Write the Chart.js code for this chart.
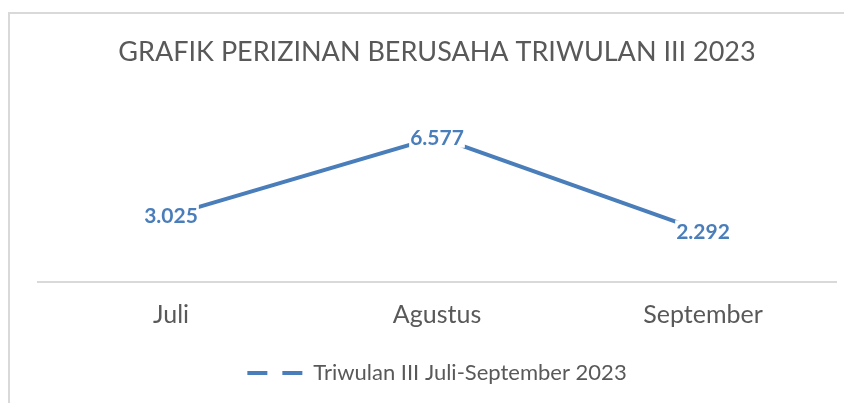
<!DOCTYPE html>
<html>
<head>
<meta charset="utf-8">
<script src="https://cdn.jsdelivr.net/npm/chart.js@4.4.0/dist/chart.umd.min.js"></script>
<style>
  html, body { margin: 0; padding: 0; background: #fff; overflow: hidden; }
  #wrap { position: absolute; left: 0; top: 0; width: 844px; height: 403px; }
  #frame { position: absolute; left: 8px; top: 12px; width: 900px; height: 450px; border: 2px solid #d9d9d9; box-sizing: border-box; }
</style>
</head>
<body>
<div id="wrap">
  <div id="frame"></div>
  <canvas id="chart" width="844" height="403"></canvas>
</div>
<script>
// data grafik
const months = ['Juli', 'Agustus', 'September'];
const izinValues = [3.025, 6.577, 2.292];
const seriesLabel = 'Triwulan III Juli-September 2023';
const chartTitle = 'GRAFIK PERIZINAN BERUSAHA TRIWULAN III 2023';

const blue = '#4a7ebb';
const grey = '#595959';

// label angka di atas titik, dengan latar putih
const valueLabels = {
    id: 'valueLabels',
    afterDatasetsDraw(chart) {
        const ctx = chart.ctx;
        const meta = chart.getDatasetMeta(0);
        ctx.save();
        ctx.font = 'bold 21px Lato';
        ctx.textAlign = 'center';
        ctx.textBaseline = 'middle';
        meta.data.forEach((pt, i) => {
            const txt = izinValues[i].toFixed(3);
            const w = ctx.measureText(txt).width;
            ctx.fillStyle = '#fff';
            ctx.fillRect(pt.x - w / 2 - 1, pt.y - 11, w + 2, 22);
            ctx.fillStyle = blue;
            ctx.fillText(txt, pt.x, pt.y + 1);
        });
        ctx.restore();
    }
};

const ctx = document.getElementById('chart').getContext('2d');
const myChart = new Chart(ctx, {
    type: 'line',
    data: {
        labels: months,
        datasets: [{
            label: seriesLabel,
            data: izinValues,
            borderColor: blue,
            backgroundColor: blue,
            borderWidth: 4,
            pointRadius: 0,
            tension: 0
        }]
    },
    options: {
        responsive: false,
        animation: false,
        layout: { padding: { left: 38, right: 8, top: 22, bottom: 9 } },
        plugins: {
            title: {
                display: true,
                text: chartTitle,
                color: grey,
                font: { family: 'Lato', size: 27, weight: 'normal' },
                padding: { top: 14, bottom: 37 }
            },
            legend: {
                position: 'bottom',
                labels: {
                    color: grey,
                    font: { family: 'Lato', size: 22 },
                    usePointStyle: true,
                    pointStyle: 'line',
                    pointStyleWidth: 55,
                    padding: 10,
                    generateLabels(chart) {
                        return [{
                            text: seriesLabel,
                            fillStyle: blue,
                            strokeStyle: blue,
                            lineWidth: 4,
                            lineDash: [20, 15],
                            pointStyle: 'line',
                            fontColor: grey,
                            datasetIndex: 0
                        }];
                    }
                }
            },
            tooltip: { enabled: false }
        },
        scales: {
            x: {
                offset: true,
                grid: { display: false, offset: true },
                border: { display: true, color: '#d9d9d9', width: 2 },
                ticks: { color: grey, font: { family: 'Lato', size: 25 }, padding: 10 },
                // judul kosong cuma buat jarak ke legend
                title: { display: true, text: ' ', font: { size: 1 }, padding: { top: 0, bottom: 11 } }
            },
            y: {
                display: false,
                min: 0,
                max: 8
            }
        }
    },
    plugins: [valueLabels]
});
</script>
</body>
</html>
